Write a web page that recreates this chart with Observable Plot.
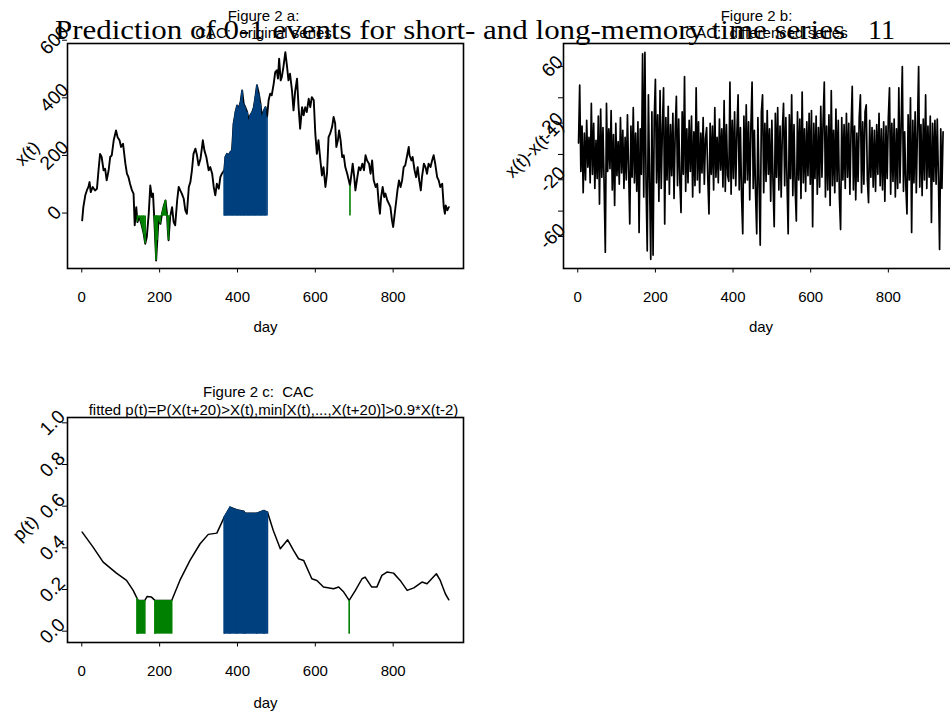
<!DOCTYPE html>
<html><head><meta charset="utf-8">
<script src="https://cdn.jsdelivr.net/npm/d3@7"></script>
<script src="https://cdn.jsdelivr.net/npm/@observablehq/plot@0.6"></script>
<style>
html,body{margin:0;padding:0;background:#fff;overflow:hidden;}
#page{position:relative;width:950px;height:715px;overflow:hidden;background:#fff;}
#page > svg{position:absolute;}
</style></head><body><div id="page"></div>
<script>
// ---------- text ----------
const headerText = "Prediction of 0-1 events for short- and long-memory time series";
const pageNumber = "11";
const aTitle = ["Figure 2 a:", "CAC:\u00a0 original series"];
const bTitle = ["Figure 2 b:", "CAC:\u00a0 differenced series"];
const cTitle = ["Figure 2 c:\u00a0 CAC", "fitted p(t)=P(X(t+20)>X(t),min[X(t),...,X(t+20)]>0.9*X(t-2)"];
const xLabel = "day";
const aYLabel = "x(t)", bYLabel = "x(t)-x(t-1)", cYLabel = "p(t)";

// ---------- ticks ----------
const xTicks = [0, 200, 400, 600, 800];
const aYTicks = [0, 200, 400, 600];
const bYTicksLabelled = [60, 20, -20, -60];
const bYTicksMinor = [40, 0, -40];
const cYTicks = [0, 0.2, 0.4, 0.6, 0.8, 1.0];

// ---------- highlighted day intervals ----------
const blueInt = [366, 477];
const greenInts = [[142, 164], [186, 231], [687, 689]];

// ---------- Figure 2a: original series ----------
const aDay = [1,4,9,13,17,20,23,28,34,39,43,47,51,56,60,64,69,73,77,82,88,92,97,101,106,112,116,120,124,129,133,136,140,143,148,154,159,163,167,172,176,180,183,186,190,191,194,197,202,206,210,215,219,221,223,227,232,236,240,245,249,253,257,262,266,270,275,279,283,287,292,296,300,305,309,311,315,320,326,330,335,339,343,347,352,356,360,366,369,373,377,382,386,390,395,399,403,408,412,416,420,425,429,433,438,442,446,450,455,459,463,468,472,476,480,484,488,493,497,501,504,507,511,514,518,523,527,531,535,540,544,548,553,557,561,566,570,574,578,583,587,591,596,600,604,608,613,617,621,626,630,634,638,643,647,651,654,658,661,665,669,673,677,682,686,689,693,696,700,703,708,712,716,721,725,729,733,738,742,746,750,755,759,763,766,769,773,777,780,785,789,793,797,800,803,808,811,815,819,823,827,831,836,840,842,847,850,855,859,863,867,871,874,879,883,887,891,896,900,904,908,913,917,921,926,930,933,935,939,943];
const aVal = [-15,31,72,89,101,118,83,101,89,95,159,216,205,159,164,124,159,205,211,263,297,274,263,240,251,182,147,135,112,89,78,-32,31,-21,-3,-32,-61,-96,-73,8,106,66,78,-3,-119,-154,-84,-15,-27,8,31,54,8,-50,-84,-3,31,-21,-32,54,101,89,78,60,20,8,101,118,159,216,234,211,176,199,240,263,228,205,159,170,147,101,72,112,95,135,147,159,205,216,211,222,228,321,361,384,373,396,436,390,378,361,332,350,361,378,413,454,425,390,344,367,378,344,402,425,419,459,500,506,477,546,471,483,517,569,523,471,494,436,367,431,477,378,303,378,350,378,361,407,378,413,402,286,216,263,193,141,170,101,147,274,286,309,344,321,240,263,297,263,205,211,170,147,124,106,147,182,135,89,135,170,159,182,159,211,193,182,147,193,124,101,112,43,8,66,101,66,78,54,43,31,-15,-38,-3,54,89,124,101,124,170,176,211,240,211,193,205,159,135,170,124,89,135,182,170,147,182,170,193,211,182,135,124,101,112,31,8,37,20,31];

// ---------- Figure 2b: differenced series (one value every bStep days from bStart) ----------
const bStart = 2, bStep = 3;
const bVal = [
 8,49,-12,20,-27,15,-18,24,-9,12,
 -20,36,-14,22,-24,10,-17,27,-35,32,
 -16,19,-22,-69,36,-12,18,-10,31,-25,
 14,-36,22,-15,9,-21,26,-13,17,-24,
 12,-18,28,-11,-49,20,-16,33,-20,15,
 -26,23,-55,18,-14,71,-30,72,-22,-68,
 42,-18,-74,30,-71,25,53,-20,28,-33,
 45,-24,19,47,-49,26,-18,34,-28,21,
 -15,29,-31,16,41,-22,25,-19,-41,30,
 -14,55,-26,18,-20,24,-12,27,-30,16,
 -22,47,-18,23,-27,15,-13,26,-21,11,
 19,-17,-42,22,-14,20,-25,33,-16,12,
 -20,25,-11,18,-23,38,-26,21,-15,-19,
 51,-28,24,-17,30,-22,16,42,-25,19,
 -30,-56,27,-20,35,-18,23,-32,20,51,
 -24,17,-28,-56,26,-21,-64,30,42,-27,
 22,-19,31,-14,18,-33,24,-20,-51,29,
 -16,33,-25,20,-30,17,36,-22,26,-19,
 -56,28,-17,42,-29,21,-24,-47,30,-18,
 25,-31,44,-20,18,-26,23,-15,29,-21,
 31,-51,22,-17,27,-28,19,-23,34,-16,
 24,51,-30,20,-25,28,-36,45,-22,17,
 -27,32,-19,24,-31,-53,26,-18,21,-24,
 29,-16,22,-28,18,48,-25,20,-32,15,
 -19,26,42,-27,23,-21,30,35,-18,-34,
 24,-16,19,-23,17,-26,21,-14,29,-22,
 18,-25,23,-33,20,-17,26,47,-28,22,
 -19,25,-30,18,-24,47,-20,21,62,-26,
 16,-22,-42,28,-18,40,-55,24,-20,30,
 -27,19,62,-23,21,-29,25,-18,42,-24,
 20,-16,27,-48,22,-19,24,-21,25,-17,
 -67,18,-24,16];

// ---------- Figure 2c: fitted p(t) ----------
const cDay = [1,29,55,89,115,132,142,145,162,168,179,188,231,252,278,304,325,347,366,381,398,416,420,450,468,477,492,510,529,544,557,570,591,604,621,647,660,673,687,703,720,728,745,758,771,784,801,818,836,853,874,887,911,921,934,943];
const cVal = [0.49,0.418,0.346,0.293,0.258,0.21,0.172,0.162,0.162,0.181,0.178,0.162,0.162,0.258,0.354,0.434,0.479,0.485,0.562,0.61,0.597,0.59,0.581,0.581,0.594,0.586,0.498,0.41,0.453,0.402,0.362,0.354,0.266,0.258,0.226,0.218,0.226,0.202,0.162,0.21,0.266,0.274,0.226,0.226,0.282,0.298,0.293,0.258,0.21,0.222,0.25,0.242,0.29,0.258,0.194,0.165];

// ---------- build ----------
const aRows = aDay.map((d, i) => ({day: d, v: aVal[i]}));
const bRows = bVal.map((v, i) => ({day: bStart + bStep * i, v}));
const cRows = cDay.map((d, i) => ({day: d, v: cVal[i]}));

const FONT = "'Liberation Sans', Arial, Helvetica, sans-serif";
const BLUE = "#00407e", GREEN = "#008000";
const xDomain = [-36.7, 980.7];
const style = () => ({fontFamily: FONT, fontSize: "15px", color: "black", background: "white", overflow: "visible", maxWidth: "none"});
const fmt = d => String(d);
const YTICK_FONT = 19, YLAB_FONT = 18;

function fills(rows) {
  const out = [];
  const add = (lo, hi, color) => {
    const sub = rows.filter(r => r.day >= lo && r.day <= hi);
    out.push(Plot.areaY(sub, {x: "day", y1: 0, y2: "v", fill: color}));
    out.push(Plot.ruleX(sub, {x: "day", y1: 0, y2: "v", stroke: color, strokeWidth: 1.6}));
  };
  for (const g of greenInts) add(g[0], g[1], GREEN);
  add(blueInt[0], blueInt[1], BLUE);
  return out;
}
const label = (t, o) => Plot.text([t], {text: d => d, fontSize: 15, textAnchor: "middle", ...o});
const yTickAxis = (ticks, format, pad) => Plot.axisY({ticks, tickSize: 5, tickPadding: pad, tickRotate: -45, textAnchor: "middle", lineAnchor: "middle", fontSize: YTICK_FONT, dy: -3, label: null, tickFormat: format});

const pa = Plot.plot({
  width: 480, height: 345, marginLeft: 67, marginRight: 17, marginTop: 43, marginBottom: 77,
  style: style(),
  x: {domain: xDomain, label: null},
  y: {domain: [-182, 599], label: null},
  marks: [
    Plot.line(aRows, {x: "day", y: "v", stroke: "black", strokeWidth: 1.9}),
    ...fills(aRows),
    Plot.frame({stroke: "black", strokeWidth: 1.6}),
    Plot.axisX({ticks: xTicks, tickSize: 4.5, tickPadding: 18, fontSize: 15, label: null, tickFormat: fmt}),
    yTickAxis(aYTicks, fmt, 8),
    label(xLabel, {frameAnchor: "bottom", dy: 59, lineAnchor: "middle"}),
    label(aYLabel, {frameAnchor: "left", dx: -40, dy: -2.5, rotate: -45, lineAnchor: "middle", fontSize: YLAB_FONT}),
    label(aTitle[0], {frameAnchor: "top", dx: -2, dy: -22.3, lineAnchor: "bottom"}),
    label(aTitle[1], {frameAnchor: "top", dx: -2, dy: -5.7, lineAnchor: "bottom"})
  ]
});

const pb = Plot.plot({
  width: 490, height: 345, marginLeft: 83, marginRight: 12, marginTop: 43, marginBottom: 77,
  style: style(),
  x: {domain: xDomain, label: null},
  y: {domain: [-80.5, 78.3], label: null},
  marks: [
    Plot.line(bRows, {x: "day", y: "v", stroke: "black", strokeWidth: 1.7}),
    Plot.frame({stroke: "black", strokeWidth: 1.6}),
    Plot.axisX({ticks: xTicks, tickSize: 4.5, tickPadding: 18, fontSize: 15, label: null, tickFormat: fmt}),
    yTickAxis(bYTicksLabelled, fmt, 6),
    Plot.axisY({ticks: bYTicksMinor, tickSize: 5, fill: "none", label: null}),
    label(xLabel, {frameAnchor: "bottom", dy: 59, lineAnchor: "middle"}),
    label(bYLabel, {frameAnchor: "left", dx: -29, dy: -7.5, rotate: -45, lineAnchor: "middle", fontSize: YLAB_FONT}),
    label(bTitle[0], {frameAnchor: "top", dx: -4.5, dy: -22.3, lineAnchor: "bottom"}),
    label(bTitle[1], {frameAnchor: "top", dx: 5.5, dy: -5.7, lineAnchor: "bottom"})
  ]
});

const pc = Plot.plot({
  width: 480, height: 345, marginLeft: 67, marginRight: 17, marginTop: 47, marginBottom: 73,
  style: style(),
  x: {domain: xDomain, label: null},
  y: {domain: [-0.04, 1.04], label: null},
  marks: [
    Plot.line(cRows, {x: "day", y: "v", stroke: "black", strokeWidth: 1.5}),
    ...fills(cRows),
    Plot.frame({stroke: "black", strokeWidth: 1.6}),
    Plot.axisX({ticks: xTicks, tickSize: 4.5, tickPadding: 18, fontSize: 15, label: null, tickFormat: fmt}),
    yTickAxis(cYTicks, d3.format(".1f"), 10),
    label(xLabel, {frameAnchor: "bottom", dy: 61, lineAnchor: "middle"}),
    label(cYLabel, {frameAnchor: "left", dx: -42, dy: -1.5, rotate: -45, lineAnchor: "middle", fontSize: YLAB_FONT}),
    label(cTitle[0], {frameAnchor: "top", dx: -7, dy: -20.3, lineAnchor: "bottom"}),
    label(cTitle[1], {frameAnchor: "top", dx: 8, dy: -2.7, lineAnchor: "bottom"})
  ]
});

const page = document.getElementById("page");
pa.style.left = "0px"; pa.style.top = "0px"; pa.style.position = "absolute";
pb.style.left = "480px"; pb.style.top = "0px"; pb.style.position = "absolute";
pc.style.left = "0px"; pc.style.top = "370px"; pc.style.position = "absolute";
page.append(pa, pb, pc);

// running page header (drawn on top, as in the scanned page)
const hdr = d3.select(page).append("svg")
  .attr("width", 950).attr("height", 60)
  .style("position", "absolute").style("left", "0px").style("top", "0px")
  .style("pointer-events", "none").style("overflow", "visible");
hdr.append("text").attr("x", 55).attr("y", 39.3)
  .attr("font-family", "'Liberation Serif', 'DejaVu Serif', serif").attr("font-size", 28)
  .attr("textLength", 790).attr("lengthAdjust", "spacingAndGlyphs")
  .attr("fill", "black").text(headerText);
hdr.append("text").attr("x", 868).attr("y", 39.3)
  .attr("font-family", "'Liberation Serif', 'DejaVu Serif', serif").attr("font-size", 28)
  .attr("fill", "black").text(pageNumber);
</script>
</body></html>
